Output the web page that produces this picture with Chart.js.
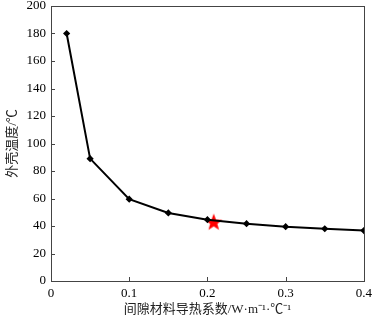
<!DOCTYPE html>
<html>
<head>
<meta charset="utf-8">
<script src="https://cdn.jsdelivr.net/npm/chart.js@4"></script>
<style>
  html, body { margin: 0; padding: 0; background: #fff; }
  #wrap { width: 377px; height: 323px; }
</style>
</head>
<body>
<div id="wrap"><canvas id="myChart" width="377" height="323"></canvas></div>
<script>
// conductivity of the gap material (W·m-1·℃-1) vs shell temperature (℃)
const conductivity = [0.02, 0.05, 0.1, 0.15, 0.2, 0.25, 0.3, 0.35, 0.4]
const shellTemp = [180, 89, 59.5, 49.5, 44.6, 41.7, 39.5, 38, 36.7]
const chosenPoint = [0.208, 43.2]
const xTicks = [0, 0.1, 0.2, 0.3, 0.4]
const yTicks = [0, 20, 40, 60, 80, 100, 120, 140, 160, 180, 200]

const fontFamily = '"Liberation Serif", "Noto Sans CJK SC", serif'

// filled red star used as the marker of the chosen point
function makeStar(size, color){
    let c = document.createElement('canvas')
    c.width = size
    c.height = size
    let g = c.getContext('2d')
    let cx = size / 2, cy = size / 2 + 1
    let R = size / 2, r = R * 0.42
    g.beginPath()
    for (let i = 0; i < 10; i++){
        let rad = i % 2 == 0 ? R : r
        let a = -Math.PI / 2 + i * Math.PI / 5
        g.lineTo(cx + rad * Math.cos(a), cy + rad * Math.sin(a))
    }
    g.closePath()
    g.fillStyle = color
    g.fill()
    return c
}

// box around the plot plus short ticks pointing inward
const framePlugin = {
    id: 'frame',
    afterDatasetsDraw(chart){
        let ctx = chart.ctx
        let a = chart.chartArea
        let xs = chart.scales.x, ys = chart.scales.y
        ctx.save()
        ctx.strokeStyle = '#444'
        ctx.lineWidth = 1
        ctx.beginPath()
        for (let v of yTicks){
            let y = Math.round(ys.getPixelForValue(v)) + 0.5
            ctx.moveTo(a.left, y)
            ctx.lineTo(a.left + 4, y)
        }
        for (let v of xTicks){
            let x = Math.round(xs.getPixelForValue(v)) + 0.5
            ctx.moveTo(x, a.bottom)
            ctx.lineTo(x, a.bottom - 4)
        }
        ctx.stroke()
        ctx.strokeRect(Math.round(a.left) + 0.5, Math.round(a.top) + 0.5,
            Math.round(a.right - a.left), Math.round(a.bottom - a.top))
        ctx.restore()
    }
}

const noPad = s => { s.paddingTop = 0; s.paddingBottom = 0 }

let ctx = document.getElementById('myChart').getContext('2d')
let myChart = new Chart(ctx, {
    type: 'scatter',
    data: {
        datasets: [{
            data: conductivity.map((x, i) => ({x: x, y: shellTemp[i]})),
            showLine: true,
            borderColor: '#000',
            backgroundColor: '#000',
            borderWidth: 2,
            pointRadius: 2.2,
            pointStyle: 'rectRot',
            tension: 0
        }, {
            data: [{x: chosenPoint[0], y: chosenPoint[1]}],
            showLine: false,
            pointStyle: makeStar(18, '#ff0000'),
            pointRadius: 9
        }]
    },
    options: {
        responsive: false,
        animation: false,
        layout: { autoPadding: false, padding: { top: 6, right: 12, left: 0, bottom: 0 } },
        plugins: { legend: { display: false }, tooltip: { enabled: false } },
        scales: {
            x: {
                type: 'linear',
                min: 0,
                max: 0.4,
                afterBuildTicks: s => { s.ticks = xTicks.map(v => ({value: v})) },
                afterFit: s => { s.height = 42; noPad(s) },
                grid: { display: false, drawTicks: false },
                border: { display: false },
                ticks: {
                    color: '#000',
                    padding: 5,
                    maxRotation: 0,
                    font: { family: fontFamily, size: 13 },
                    callback: v => String(v)
                },
                title: {
                    display: true,
                    text: '间隙材料导热系数/W·m⁻¹·℃⁻¹',
                    color: '#222',
                    padding: { top: 0, bottom: 6 },
                    font: { family: fontFamily, size: 13 }
                }
            },
            y: {
                min: 0,
                max: 200,
                afterBuildTicks: s => { s.ticks = yTicks.map(v => ({value: v})) },
                afterFit: s => { s.width = 51; noPad(s) },
                grid: { display: false, drawTicks: false },
                border: { display: false },
                ticks: {
                    color: '#000',
                    padding: 5,
                    font: { family: fontFamily, size: 13 }
                },
                title: {
                    display: true,
                    text: '外壳温度/℃',
                    color: '#222',
                    padding: { top: 5, bottom: 0 },
                    font: { family: fontFamily, size: 13 }
                }
            }
        }
    },
    plugins: [framePlugin]
})
</script>
</body>
</html>
